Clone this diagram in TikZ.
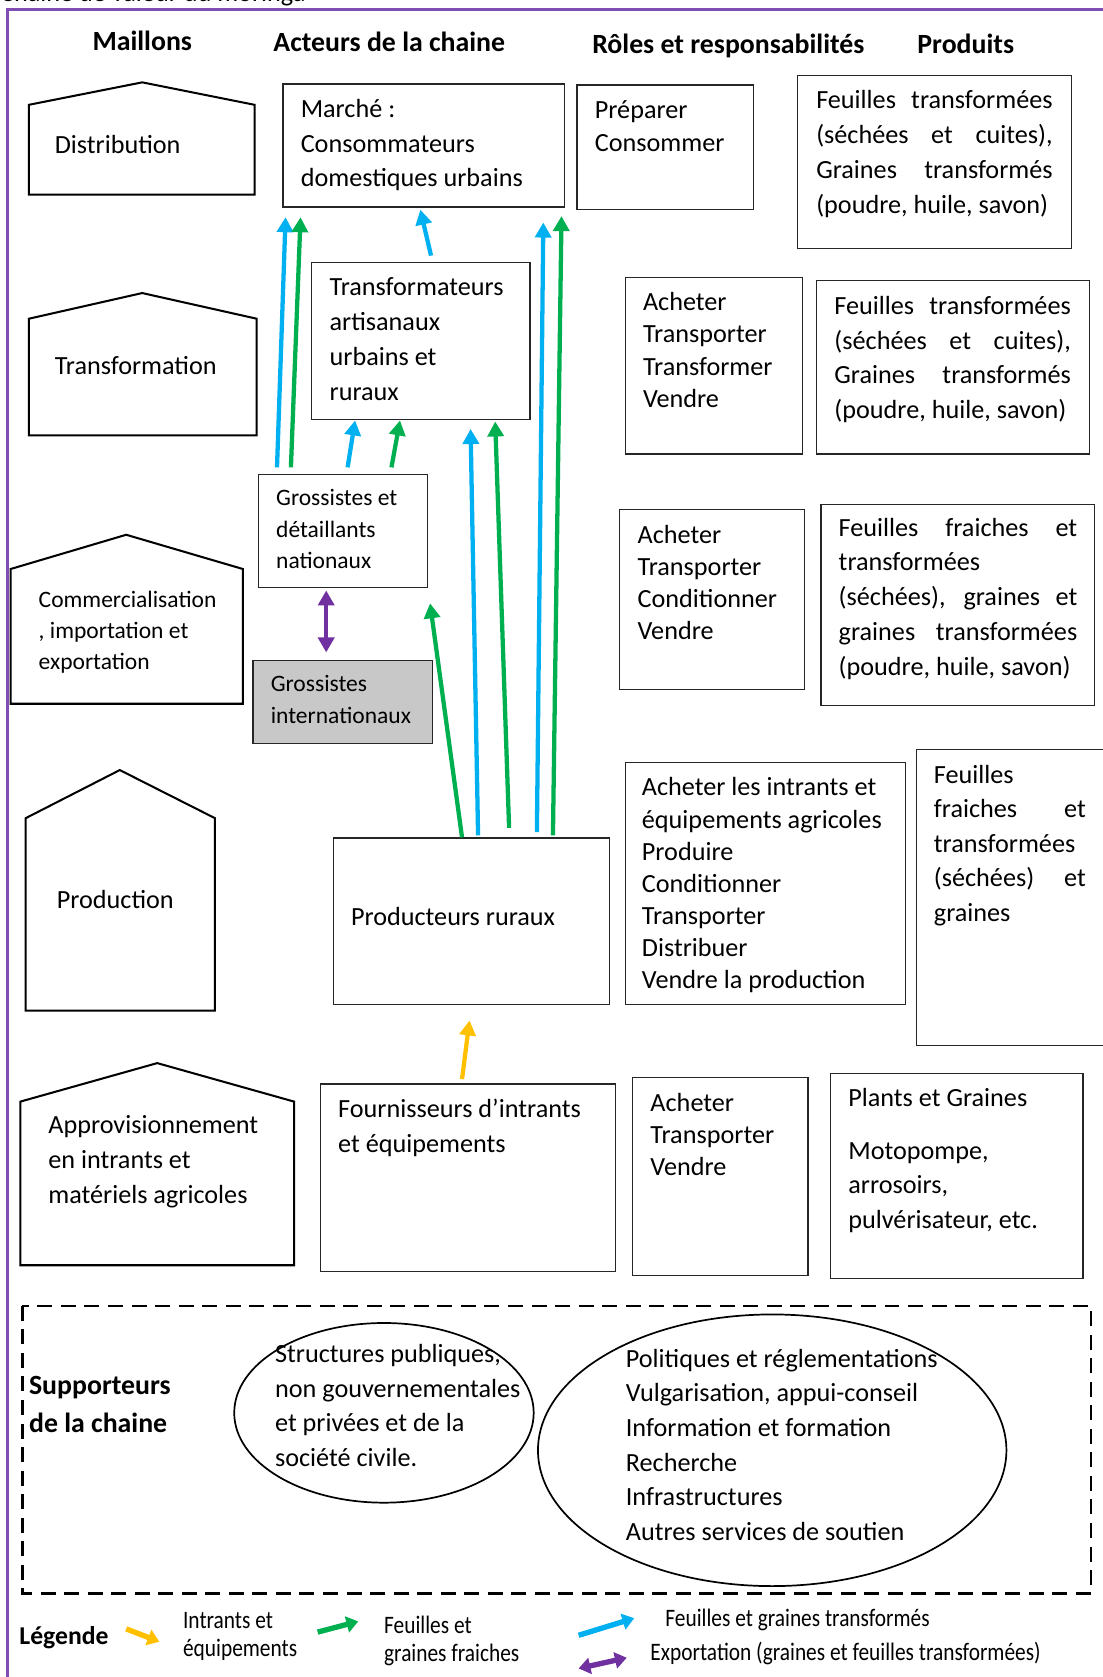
\documentclass[tikz,border=0pt]{standalone}
\usepackage{fontspec}
\setmainfont{Carlito}
\usepackage{graphicx}
\usetikzlibrary{arrows.meta,calc,shapes.geometric}

\definecolor{frameviolet}{RGB}{128,78,178}
\definecolor{flowblue}{RGB}{0,176,240}
\definecolor{flowgreen}{RGB}{0,176,80}
\definecolor{flowyellow}{RGB}{255,192,0}
\definecolor{flowpurple}{RGB}{112,48,160}
\definecolor{boxgray}{RGB}{200,200,200}

% strut for the first line of a text block
\newcommand\fst{\rule{0pt}{20pt}}
% horizontally narrowed legend text
\newcommand\nar[1]{\scalebox{.85}[1]{#1}}
% justified line of a given width
\newcommand\jl[2]{\makebox[#1pt][s]{#2}}
% rectangular cell from its corners: [style]{name}{x1}{y1}{x2}{y2}
\newcommand\cell[6][]{\node[cell,minimum width={#5-#3},minimum height={#6-#4},#1] (#2) at (#3,#4) {};}

\tikzset{
  cell/.style={draw=black!85, line width=1.1pt, anchor=north west, inner sep=0pt, rectangle},
  link/.style={draw=black, line width=1.9pt, line join=miter},
  lbl/.style={anchor=north west, inner sep=0pt, align=left, font=\fontsize{24.5}{#1}\selectfont},
  lbl/.default=32.5,
  smalllbl/.style={anchor=north west, inner sep=0pt, align=left, font=\fontsize{22}{#1}\selectfont},
  smalllbl/.default=29.5,
  hdr/.style={anchor=base, inner sep=0pt, font=\fontsize{26}{30}\selectfont\bfseries},
  flow/.style={line width=4pt, -{Triangle[length=14pt,width=15pt]}},
  bothflow/.style={line width=4pt, {Triangle[length=14pt,width=15pt]}-{Triangle[length=14pt,width=15pt]}},
  keyflow/.style={line width=5pt, -{Triangle[length=11pt,width=15pt]}},
  keyboth/.style={line width=5pt, {Triangle[length=11pt,width=15pt]}-{Triangle[length=11pt,width=15pt]}},
  keytxt/.style={anchor=north west, inner sep=0pt, align=left, font=\fontsize{23.5}{26}\selectfont},
  bubble/.style={draw=black, line width=1.6pt, ellipse, inner sep=0pt},
}

\begin{document}
\begin{tikzpicture}[x=1pt,y=-1pt]
\fill[white] (0,0) rectangle (1031,1568);
\useasboundingbox (0,0) rectangle (1031,1568);

% caption line above the frame
\node[anchor=base west, inner sep=0pt, font=\fontsize{24.5}{30}\selectfont] (caption) at (0,1) {Chaîne de valeur du moringa};

% outer frame
\draw[frameviolet, line width=2.5pt] (7,9) rectangle (1060,1620);

% column headings
\node[hdr] (hmaillons) at (133,47) {Maillons};
\node[hdr] (hacteurs) at (364,48) {Acteurs de la chaine};
\node[hdr] (hroles) at (681,50) {Rôles et responsabilités};
\node[hdr] (hproduits) at (903,50) {Produits};

% ---- links of the chain (pentagons) ----
\draw[link] (27,182) -- (27,98) -- (133,77) -- (238,98) -- (238,182) -- cycle;
\node[lbl] (tdist) at (51,123) {\fst Distribution};

\draw[link] (27,407) -- (27,298) -- (133,274) -- (240,298) -- (240,407) -- cycle;
\node[lbl] (ttrans) at (51,330) {\fst Transformation};

\draw[link] (10,658) -- (10,532) -- (118,500) -- (227,532) -- (227,658) -- cycle;
\node[smalllbl=29] (tcomm) at (36,547.5) {\fst Commercialisation\\, importation et\\exportation};

\draw[link] (24,945) -- (24,765) -- (112,720) -- (201,765) -- (201,945) -- cycle;
\node[lbl] (tprod) at (53,829) {\fst Production};

\draw[link] (19,1183) -- (19,1030) -- (147,994) -- (275,1030) -- (275,1183) -- cycle;
\node[lbl=32.5] (tappro) at (45,1040) {\fst Approvisionnement\\en intrants et\\matériels agricoles};

% ---- actors, roles and products ----
\cell{mk}{264}{78}{527}{193}
\node[lbl=32] (tmk) at (281,90) {\fst Marché :\\Consommateurs\\domestiques urbains};
\cell{ro1}{539}{79}{704}{195}
\node[lbl=30] (tro1) at (556,91) {\fst Préparer\\Consommer};
\cell{pd1}{745}{70}{1001}{232}
\node[lbl=32.7] (tpd1) at (763,81) {\fst\jl{221}{Feuilles transformées}\\\jl{221}{(séchées et cuites),}\\\jl{221}{Graines transformés}\\(poudre, huile, savon)};

\cell{tr}{291}{245}{495}{392}
\node[lbl=32.7] (ttr) at (308,256) {\fst Transformateurs\\artisanaux\\urbains et\\ruraux};
\cell{ro2}{584}{259}{750}{424}
\node[lbl=30.3] (tro2) at (601,270) {\fst Acheter\\Transporter\\Transformer\\Vendre};
\cell{pd2}{763}{262}{1018}{424}
\node[lbl=32.3] (tpd2) at (780,274) {\fst\jl{221}{Feuilles transformées}\\\jl{221}{(séchées et cuites),}\\\jl{221}{Graines transformés}\\(poudre, huile, savon)};

\cell{gn}{241}{443}{399}{549}
\node[smalllbl=29.5] (tgn) at (258,452.5) {\fst Grossistes et\\détaillants\\nationaux};
\cell{ro3}{579}{476}{752}{644}
\node[lbl=30] (tro3) at (596,488) {\fst Acheter\\Transporter\\Conditionner\\Vendre};
\cell{pd3}{767}{471}{1023}{659}
\node[lbl=32.5] (tpd3) at (784,481) {\fst\jl{223}{Feuilles fraiches et}\\transformées\\\jl{223}{(séchées), graines et}\\\jl{223}{graines transformées}\\(poudre, huile, savon)};

\cell[fill=boxgray]{gi}{236}{617}{404}{695}
\node[smalllbl=30] (tgi) at (253,626.5) {\fst Grossistes\\internationaux};

\cell{prd}{311}{783}{569}{939}
\node[lbl] (tprd) at (328,845) {\fst Producteurs ruraux};
\cell{ro4}{584}{712}{846}{939}
\node[lbl=30] (tro4) at (600,724) {\fst Acheter les intrants et\\équipements agricoles\\Produire\\Conditionner\\Transporter\\Distribuer\\Vendre la production};
\cell{pd4}{856}{700}{1045}{977}
\node[lbl=32.3] (tpd4) at (873,712) {\fst Feuilles\\\jl{142}{fraiches et}\\transformées\\\jl{142}{(séchées) et}\\graines};

\cell{fo}{299}{1013}{575}{1188}
\node[lbl=32] (tfo) at (316,1025) {\fst Fournisseurs d’intrants\\et équipements};
\cell{ro5}{591}{1007}{755}{1192}
\node[lbl=30] (tro5) at (608,1019) {\fst Acheter\\Transporter\\Vendre};
\cell{pd5}{776}{1003}{1012}{1195}
\node[lbl=32] (tpd5) at (793,1014) {\fst Plants et Graines\\[18pt]Motopompe,\\arrosoirs,\\pulvérisateur, etc.};

% ---- product flows ----
\draw[flow, flowblue]  ($(gn.north west)+(18,-6)$)  -- ($(mk.south west)+(3,9)$);
\draw[flow, flowgreen] ($(gn.north west)+(31,-6)$)  -- ($(mk.south west)+(17,9)$);
\draw[flow, flowblue]  ($(tr.north west)+(112,-6)$) -- ($(mk.south west)+(129,2)$);
\draw[flow, flowblue]  ($(gn.north west)+(84,-6)$)  -- ($(tr.south west)+(41,0)$);
\draw[flow, flowgreen] ($(gn.north west)+(125,-6)$) -- ($(tr.south west)+(83,0)$);
\draw[flow, flowblue]  ($(prd.north west)+(136,-2)$) -- ($(tr.south west)+(149,8)$);
\draw[flow, flowgreen] ($(prd.north west)+(165,-9)$) -- ($(tr.south west)+(172,1)$);
\draw[flow, flowblue]  ($(prd.north west)+(191,-5)$) -- ($(mk.south west)+(244,14)$);
\draw[flow, flowgreen] ($(prd.north west)+(206,-2)$) -- ($(mk.south west)+(261,8)$);
\draw[flow, flowgreen] ($(prd.north west)+(121,0)$) -- ($(gn.south east)+(2,14)$);
\draw[bothflow, flowpurple] ($(gn.south west)+(64,2)$) -- ($(gi.north west)+(69,-7)$);
\draw[flow, flowyellow] ($(fo.north west)+(133,-4)$) -- ($(prd.south west)+(128,14)$);

% ---- supporting actors ----
\draw[black, line width=2.5pt, dash pattern=on 14pt off 8pt] (21,1221) rectangle (1020,1490);
\node[anchor=north west, inner sep=0pt, align=left, font=\fontsize{26}{35}\selectfont\bfseries] (tsup) at (27,1284) {\fst Supporteurs\\de la chaine};
\node[bubble, minimum width=280pt, minimum height=168pt] (e1) at (359,1321) {};
\node[lbl=32.3] (te1) at (257,1254) {\fst Structures publiques,\\non gouvernementales\\et privées et de la\\société civile.};
\node[bubble, minimum width=438pt, minimum height=254pt] (e2) at (722,1356) {};
\node[lbl=32.4] (te2) at (585,1258) {\fst Politiques et réglementations\\Vulgarisation, appui-conseil\\Information et formation\\Recherche\\Infrastructures\\Autres services de soutien};

% ---- legend ----
\node[anchor=base west, inner sep=0pt, font=\fontsize{24}{28}\selectfont\bfseries] (tleg) at (18,1538) {Légende};
\coordinate (ky0) at (118,1523);
\coordinate (ky1) at (149,1535);
\draw[keyflow, flowyellow] (ky0) -- (ky1);
\node[keytxt] (tky) at (171,1502.5) {\fst\nar{Intrants et}\\\nar{équipements}};
\coordinate (kg0) at (297,1526);
\coordinate (kg1) at (335,1516);
\draw[keyflow, flowgreen] (kg0) -- (kg1);
\node[keytxt] (tkg) at (359,1507.5) {\fst\nar{Feuilles et}\\\nar{graines fraiches}};
\coordinate (kb0) at (541,1529);
\coordinate (kb1) at (593,1513);
\draw[keyflow, flowblue] (kb0) -- (kb1);
\node[anchor=base west, inner sep=0pt, font=\fontsize{23.5}{26}\selectfont] (tkb) at (622,1520.5) {\nar{Feuilles et graines transformés}};
\coordinate (kp0) at (541,1560);
\coordinate (kp1) at (586,1550);
\draw[keyboth, flowpurple] (kp0) -- (kp1);
\node[anchor=base west, inner sep=0pt, font=\fontsize{23.5}{26}\selectfont] (tkp) at (608,1552.5) {\nar{Exportation (graines et feuilles transformées)}};
\end{tikzpicture}
\end{document}
